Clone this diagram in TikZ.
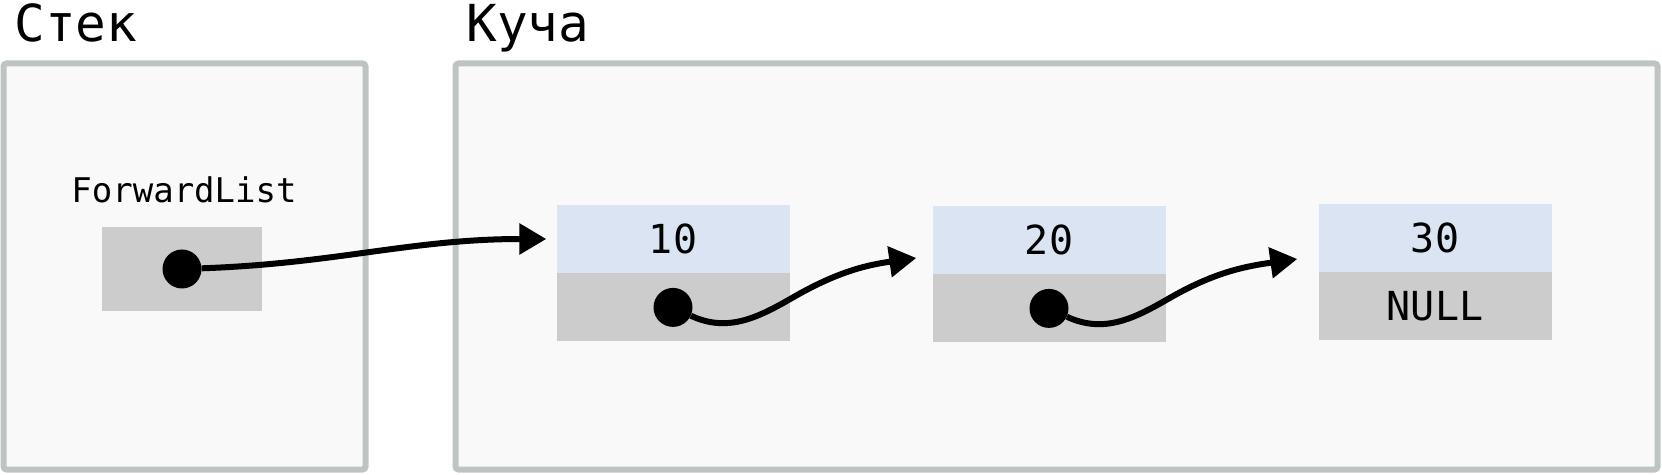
\documentclass[tikz,border=0pt]{standalone}
\usepackage{fontspec}
\setmainfont{DejaVu Sans Mono}
\usetikzlibrary{positioning,arrows.meta}

\definecolor{framegray}{RGB}{190,196,196}
\definecolor{areabg}{RGB}{249,249,249}
\definecolor{valblue}{RGB}{218,228,243}
\definecolor{nxtgray}{RGB}{204,204,204}

\begin{document}
\begin{tikzpicture}
[x=1pt, y=1pt,
 area/.style={draw=framegray, line width=6pt, fill=areabg, rounded corners=3pt, inner sep=0pt},
 title/.style={anchor=base west, font=\fontsize{51}{60}\selectfont},
 cell/.style={minimum width=233pt, minimum height=68pt, inner sep=0pt, font=\fontsize{40}{48}\selectfont},
 val/.style={cell, fill=valblue},
 nxt/.style={cell, fill=nxtgray},
 dot/.style={circle, fill=black, minimum size=39pt, inner sep=0pt},
 ptr/.style={-{Triangle[length=27pt,width=30pt]}, line width=6pt}]

\useasboundingbox (0,0) rectangle (1662,474);

\node[area, minimum width=362pt, minimum height=406pt] (stack) at (184.5,207.5) {};
\node[area, minimum width=1202pt, minimum height=406pt] (heap) at (1056.5,207.5) {};
\node[title] (stacktitle) at (11,432) {Стек};
\node[title] (heaptitle) at (463,432) {Куча};

\node[anchor=base, font=\fontsize{34}{40}\selectfont] (label) at (184,271) {ForwardList};
\node[nxt, minimum width=160pt, minimum height=84pt] (head) at (182,205) {};

\node[val] (v1) at (673,235) {10};
\node[nxt, below=0pt of v1] (n1) {};
\node[val] (v2) at (1049,234) {20};
\node[nxt, below=0pt of v2] (n2) {};
\node[val] (v3) at (1435,236) {30};
\node[nxt, below=0pt of v3] (n3) {NULL};

\node[dot] (d0) at (head) {};
\node[dot] (d1) at (n1) {};
\node[dot] (d2) at (n2) {};

\draw[ptr] (d0) to[out=2,in=180] ([xshift=-10pt]v1.west);
\foreach \from/\to/\dx/\dy in {d1/v2/-16/-18,d2/v3/-21/-21}
	\draw[ptr] (\from) to[out=-25,in=210] ([shift={(120pt,10pt)}]\from.center)
		to[out=30,in=188] ([shift={(\dx pt,\dy pt)}]\to.west);

\end{tikzpicture}
\end{document}
